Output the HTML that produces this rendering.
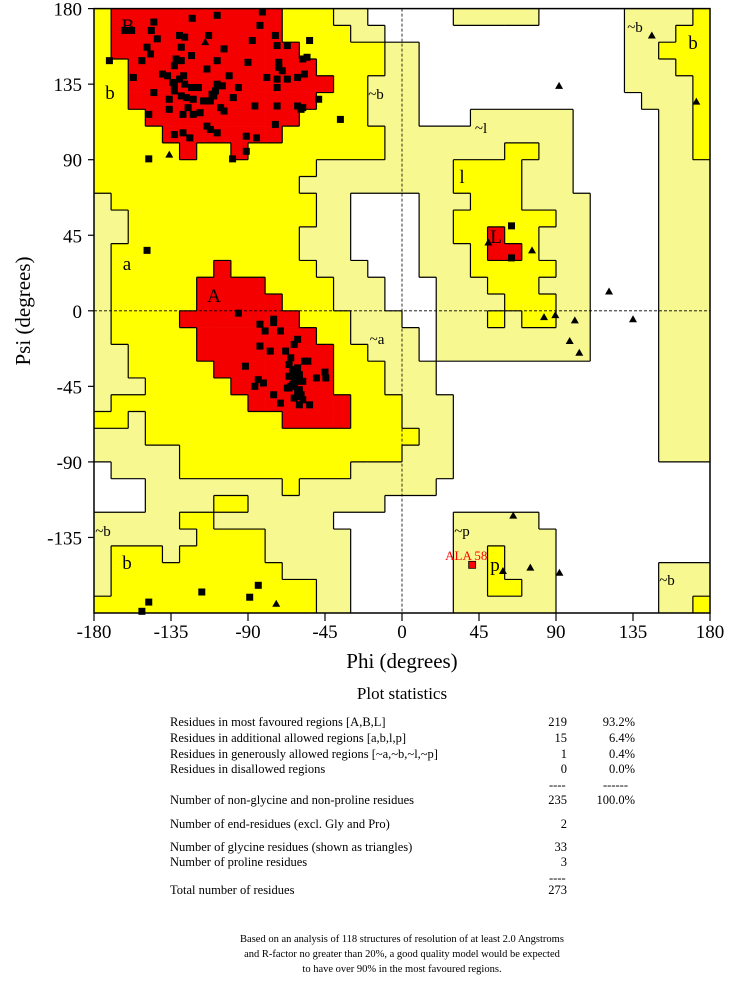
<!DOCTYPE html>
<html><head><meta charset="utf-8">
<style>
body{margin:0;background:#fff;}
svg{display:block;font-family:"Liberation Serif",serif;}
</style></head>
<body>
<svg id="chart" width="736" height="989" viewBox="0 0 736 989" xmlns="http://www.w3.org/2000/svg">
<g id="regions"></g>
<g id="borders"></g>
<g id="labels" font-size="19"></g>
<g id="points"></g>
<g id="axes"></g>
<g font-size="12.5">
<text x="402" y="699" font-size="17" text-anchor="middle">Plot statistics</text>
<text x="170" y="726">Residues in most favoured regions  [A,B,L]</text><text x="567" y="726" text-anchor="end">219</text><text x="635" y="726" text-anchor="end">93.2%</text>
<text x="170" y="742">Residues in additional allowed regions  [a,b,l,p]</text><text x="567" y="742" text-anchor="end">15</text><text x="635" y="742" text-anchor="end">6.4%</text>
<text x="170" y="758">Residues in generously allowed regions  [~a,~b,~l,~p]</text><text x="567" y="758" text-anchor="end">1</text><text x="635" y="758" text-anchor="end">0.4%</text>
<text x="170" y="773">Residues in disallowed regions</text><text x="567" y="773" text-anchor="end">0</text><text x="635" y="773" text-anchor="end">0.0%</text>
<text x="549" y="789">----</text><text x="603" y="789">------</text>
<text x="170" y="804">Number of non-glycine and non-proline residues</text><text x="567" y="804" text-anchor="end">235</text><text x="635" y="804" text-anchor="end">100.0%</text>
<text x="170" y="828">Number of end-residues (excl. Gly and Pro)</text><text x="567" y="828" text-anchor="end">2</text>
<text x="170" y="851">Number of glycine residues (shown as triangles)</text><text x="567" y="851" text-anchor="end">33</text>
<text x="170" y="866">Number of proline residues</text><text x="567" y="866" text-anchor="end">3</text>
<text x="549" y="882">----</text>
<text x="170" y="894">Total number of residues</text><text x="567" y="894" text-anchor="end">273</text>
<g font-size="10.5" text-anchor="middle">
<text x="402" y="942">Based on an analysis of 118 structures of resolution of at least 2.0 Angstroms</text>
<text x="402" y="957">and R-factor no greater than 20%, a good quality model would be expected</text>
<text x="402" y="972">to have over 90% in the most favoured regions.</text>
</g>
</g>
</svg>
<script>
const gridRows = [
"YRRRRRRRRRRYYYPPWWWWWPPPPPWWWWWPPPPY",
"YRRRRRRRRRRYYYYPPWWWWWWWWWWWWWWPPPYY",
"YRRRRRRRRRRRYYYYYPPWWWWWWWWWWWWPPYYY",
"YYRRRRRRRRRRRYYYYPPWWWWWWWWWWWWPPPYY",
"YYRRRRRRRRRRRRYYPPPWWWWWWWWWWWWPPPPY",
"YYRRRRRRRRRRRYYYPPPWWWWWWWWWWWWWPPPY",
"YYYRRRRRRRRRYYYYPPPWWWPPPPPPWWWWWPPY",
"YYYYRRRRRRRYYYYYYPPPPPPPPPPPWWWWWPPY",
"YYYYYRYYRYYYYYYYYPPPPPPPYYPPWWWWWPPY",
"YYYYYYYYYYYYYPPPPPPPPYYYYPPPWWWWWPPP",
"YYYYYYYYYYYYPPPPPPPPPYYYYPPPWWWWWPPP",
"PYYYYYYYYYYYYPPWWWWPPPYYYPPPPWWWWPPP",
"PPYYYYYYYYYYYPPWWWWPPYYYYYYPPWWWWPPP",
"PPYYYYYYYYYYPPPWWWWPPYYRYYPPPWWWWPPP",
"PYYYYYYYYYYYPPPWWWWPPPYRRYPPPWWWWPPP",
"PYYYYYYRYYYYYPPPWWWPPPYYYYYPPWWWWPPP",
"PYYYYYRRRRYYYYPPPWWWPPPYYYPPPWWWWPPP",
"PYYYYYRRRRRYYYPPPWWWPPPPYYYPPWWWWPPP",
"PYYYYRRRRRRRYYYPPPWWPPPYPYYPPWWWWPPP",
"PYYYYYRRRRRRRYYPPPPWPPPPPPPPPWWWWPPP",
"PPYYYYRRRRRRRRYYPPPWPPPPPPPPPWWWWPPP",
"PPYYYYYRRRRRRRYYYPPPWWWWWWWWWWWWWPPP",
"PPPYYYYYRRRRRRYYYPPPWWWWWWWWWWWWWPPP",
"PYYYYYYYYRRRRRRYYYPPPWWWWWWWWWWWWPPP",
"YYPYYYYYYYYRRRRYYYPPPWWWWWWWWWWWWPPP",
"PPPYYYYYYYYYYYYYYYYPPWWWWWWWWWWWWPPP",
"PPPPPYYYYYYYYYYYYYPPPWWWWWWWWWWWWPPP",
"WPPPPYYYYYYYYYYPPPPPPWWWWWWWWWWWWWWW",
"WWWPPPPPPPPYPPPPPPPPWWWWWWWWWWWWWWWW",
"WWWPPPPYYPPPPPPPPWWWWWWWWWWWWWWWWWWW",
"PPPPPYYPPPPPPPWWWWWWWPPPPPWWWWWWWWWW",
"PPPPPPYYYYPPPPPWWWWWWPPPPPPWWWWWWWWW",
"PYYYPYYYYYPPPPPWWWWWWPPYPPPWWWWWWWWW",
"PYYYYYYYYYYPPPPWWWWWWPPYPPPWWWWWWPPP",
"PYYYYYYYYYYYYPPWWWWWWPPYYPPWWWWWWPPP",
"YYYYYYYYYYYYYPPWWWWWWPPPPPPWWWWWWPPY"
];
const xTicks = [-180,-135,-90,-45,0,45,90,135,180];
const yTicks = [180,135,90,45,0,-45,-90,-135];
const nonGlyPhi = [-122.6,-108,-81.6,-145,-162,-158,-146.5,-143,-113,-130,-127,-83,-74,-87.5,-149,-147,-129,-104,-73,-67,-54,-123,-108,-90,-72,-55.5,-58,-152,-132,-129,-133,-114,-72,-70,-140,-137,-130,-127.6,-157,-101,-79,-73,-67,-61,-57,-134,-133,-108,-105,-109,-95.6,-73,-127,-123,-119,-145,-133,-129,-126,-122,-111,-110,-98.6,-136,-116,-114,-112,-48.7,-86,-73,-61,-58,-59,-106,-104,-136,-125,-148,-128,-122,-118,-36,-114,-112,-108,-74,-128,-133,-124,-91,-85,-91,-99,-148,-171,-149,-95.6,-75,-75,-83,-80,-71,-61,-63,-83,-77,-68,-55,-91.5,-45,-44.5,-50,-84,-81,-86,-75,-71,-60,-54,-66,-62,-64,-60,-58,-63,-66,-61,-59,-57,-64,-62,-65,-60,-63,-58,-61,-66,-63,-60,-62,-64,-59,-67,-65,-62,-60,-84,-117,-89,-148,-152,64,64];
const nonGlyPsi = [174.2,176,178,172,167,167,167,162,164,164,163,170,164,161,157,153,157,156,158,158,161,152,149,148,148,151,150,149,150,149,146,144,145,143,141,140,138,140,139,140,139,138,138,139,141,136,134,135,134,131,133,133,135,133,133,130,131,128,127,126,129,128,127,126,125,125,125,126,122,122,122,121,120,121,119,120,121,117,117,117,118,114,110,108,106,111,106,105,103,104,103,95,90.5,90.5,149,36,-1.4,-5,-7,-8,-12,-12,-17,-20,-21,-24,-24,-30,-33,-36.5,-40,-40,-41,-43,-45,-50,-55,-56,-56,-32,-35,-38,-40,-42,-44,-46,-48,-50,-30,-36,-41,-45,-47,-52,-53,-34,-39,-43,-49,-37,-44,-51,-46,-28,-42,-38,-163.5,-167.5,-170.6,-173.5,-179,50.6,31.5];
const glyPhi = [-115,-136,-62,146,91.8,172,50.5,76,121,83,89.6,101,135,98,103.6,65,59,75,92,-73.5];
const glyPsi = [160,93,-40,164,134,124.6,40.7,36,11.5,-3.8,-2.6,-5.7,-5,-18,-25,-122,-155,-153,-156,-174.5];
const outlierPhi = [41];
const outlierPsi = [-151.3];
const outlierNames = ["ALA 58"];

const NS="http://www.w3.org/2000/svg";
const X0=94, X1=710, Y0=8.6, Y1=613;
function xs(phi){return X0+(phi+180)*(X1-X0)/360;}
function ys(psi){return Y0+(180-psi)*(Y1-Y0)/360;}
function mk(tag,attrs,parent){const e=document.createElementNS(NS,tag);for(const k in attrs)e.setAttribute(k,attrs[k]);parent.appendChild(e);return e;}
const colors={R:"#f40000",Y:"#ffff00",P:"#f8f890",W:"#ffffff"};
const reg=document.getElementById("regions"), bor=document.getElementById("borders");
for(let r=0;r<36;r++){for(let c=0;c<36;c++){
  const t=gridRows[r][c]; if(t==="W")continue;
  const x=xs(-180+10*c), y=ys(180-10*r);
  const el=mk("rect",{x:x,y:y,width:xs(-170+10*c)-x+0.3,height:ys(170-10*r)-y+0.3,fill:colors[t]},reg);
  
  
}}
let d="";
for(let r=0;r<36;r++){for(let c=0;c<36;c++){
  const t=gridRows[r][c];
  if(c<35&&gridRows[r][c+1]!==t){const x=xs(-170+10*c);d+=`M${x},${ys(180-10*r)}V${ys(170-10*r)}`;}
  if(r<35&&gridRows[r+1][c]!==t){const y=ys(170-10*r);d+=`M${xs(-180+10*c)},${y}H${xs(-170+10*c)}`;}
}}
mk("path",{d:d,stroke:"#000","stroke-width":1.2,fill:"none"},bor);
const ax=document.getElementById("axes");
mk("line",{x1:xs(0),y1:Y0,x2:xs(0),y2:Y1,stroke:"#000","stroke-width":0.8,"stroke-dasharray":"3,2"},ax);
mk("line",{x1:X0,y1:ys(0),x2:X1,y2:ys(0),stroke:"#000","stroke-width":0.8,"stroke-dasharray":"3,2"},ax);
mk("rect",{x:X0,y:Y0,width:X1-X0,height:Y1-Y0,fill:"none",stroke:"#000","stroke-width":1.5},ax);
xTicks.forEach(v=>{
  mk("line",{x1:xs(v),y1:Y1,x2:xs(v),y2:Y1+8,stroke:"#000","stroke-width":1.2},ax);
  const t=mk("text",{x:xs(v),y:638,"font-size":19,"text-anchor":"middle"},ax);t.textContent=v;
  
  
});
yTicks.forEach(v=>{
  mk("line",{x1:X0-6,y1:ys(v),x2:X0,y2:ys(v),stroke:"#000","stroke-width":1.2},ax);
  const t=mk("text",{x:X0-12,y:ys(v)+7,"font-size":19,"text-anchor":"end"},ax);t.textContent=v;
  
  
});
const xt=mk("text",{x:402,y:668,"font-size":21,"text-anchor":"middle"},ax);xt.textContent="Phi (degrees)";


const yt=mk("text",{x:30,y:311,"font-size":21,"text-anchor":"middle",transform:"rotate(-90 30 311)"},ax);yt.textContent="Psi (degrees)";


const lab=[["B",128,32],["b",110,99],["~b",376,99],["a",127,270],["A",214,302],["~a",377,344],["~b",103,536],["b",127,569],["~l",481,133],["l",462,183],["L",496,243],["~p",462,536],["p",495,571],["~b",635,32],["b",693,49],["~b",667,585]];
const lg=document.getElementById("labels");
lab.forEach(l=>{const t=mk("text",{x:l[1],y:l[2],"text-anchor":"middle","font-size":l[0].length>1?15:19},lg);t.textContent=l[0];
  
  });
const pg=document.getElementById("points");
for(let i=0;i<nonGlyPhi.length;i++){
  const el=mk("rect",{x:xs(nonGlyPhi[i])-3.5,y:ys(nonGlyPsi[i])-3.5,width:7,height:7,fill:"#000"},pg);
  
  
}
for(let i=0;i<glyPhi.length;i++){
  const x=xs(glyPhi[i]),y=ys(glyPsi[i]);
  const el=mk("polygon",{points:`${x-4},${y+3} ${x+4},${y+3} ${x},${y-4}`,fill:"#000"},pg);
  
  
}
for(let i=0;i<outlierPhi.length;i++){
  const x=xs(outlierPhi[i]),y=ys(outlierPsi[i]);
  const el=mk("rect",{x:x-3.5,y:y-3.5,width:7,height:7,fill:"#f00",stroke:"#000","stroke-width":0.8},pg);
  
  
  const t=mk("text",{x:x-27,y:y-5,fill:"#f00","font-size":13},pg);t.textContent=outlierNames[i];
  
  
}
</script>
</body></html>
